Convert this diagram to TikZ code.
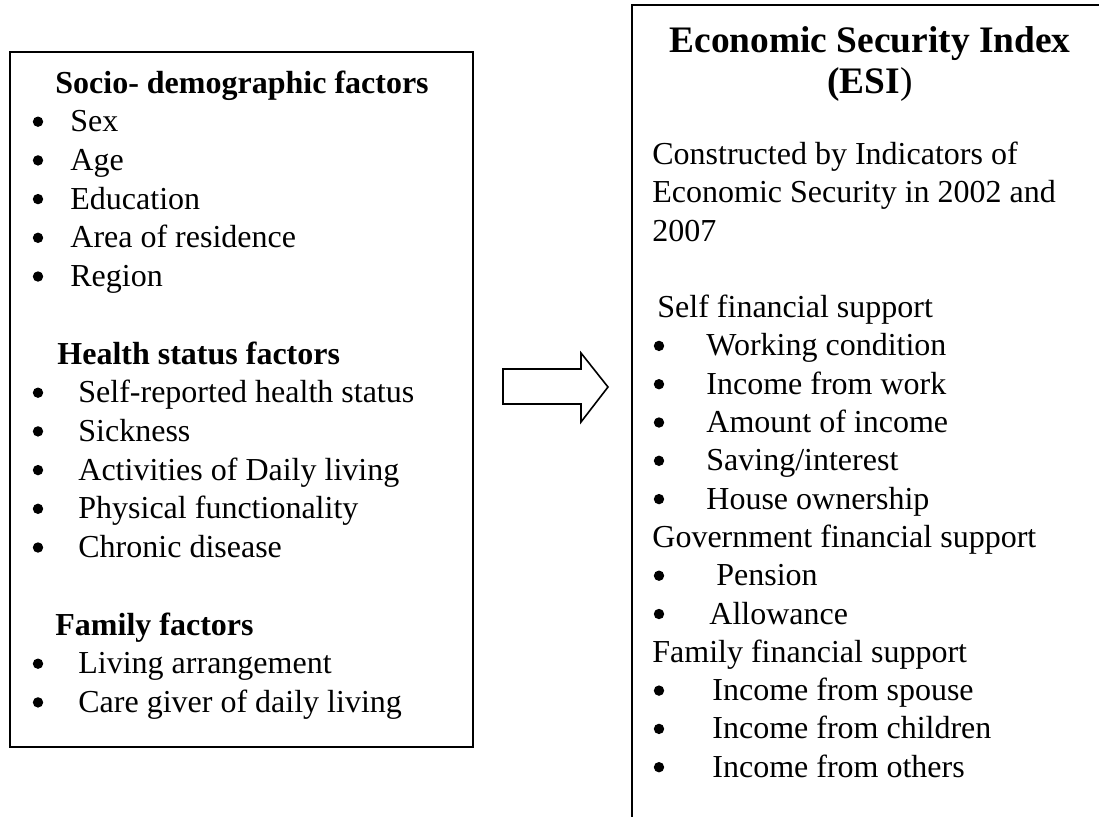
\documentclass[tikz,border=0pt]{standalone}
\usepackage{fontspec}
\setmainfont{Liberation Serif}
\tikzset{%
  box line/.style = {line width=1pt},
  item text/.style = {anchor=base west, inner sep=0pt,
    font=\fontsize{16}{19}\selectfont},
  head text/.style = {item text, font=\fontsize{16}{19}\selectfont\bfseries},
  title text/.style = {anchor=base, inner sep=0pt,
    font=\fontsize{18.7}{22}\selectfont\bfseries},
  dot/.style = {circle, fill=black, inner sep=0pt, minimum size=5.2pt},
}

\begin{document}
\begin{tikzpicture}[x=0.5pt, y=-0.5pt]
\useasboundingbox (0,0) rectangle (1099,816);
% left box: the factors
\draw[box line] (10,52) rectangle (473,747);
\node[head text] (socio) at (55,93) {Socio- demographic factors};
\foreach \t [count=\i] in {Sex, Age, Education, Area of residence, Region}{
  \node[dot] (sb\i) at (38,{93+\i*38.7-10}) {};
  \node[item text] (s\i) at (70,{93+\i*38.7}) {\t};
}
\node[head text] (health) at (57,364) {Health status factors};
\foreach \t [count=\i] in {Self-reported health status, Sickness,
  Activities of Daily living, Physical functionality, Chronic disease}{
  \node[dot] (hb\i) at (38,{364+\i*38.7-10}) {};
  \node[item text] (h\i) at (78,{364+\i*38.7}) {\t};
}
\node[head text] (family) at (55,635) {Family factors};
\foreach \t [count=\i] in {Living arrangement, Care giver of daily living}{
  \node[dot] (fb\i) at (38,{635+\i*38.7-10}) {};
  \node[item text] (f\i) at (78,{635+\i*38.7}) {\t};
}
% block arrow
\draw[line width=0.8pt] (503,369) -- (581,369) -- (581,353) -- (608,387)
  -- (581,422) -- (581,404) -- (503,404) -- cycle;
% right box: the index, running off the page
\draw[box line] (1110,5) -- (632,5) -- (632,830);
\node[title text] (esi) at (870,52) {Economic Security Index};
\node[title text] (esishort) at (870,93) {(ESI{\mdseries)}};
\node[item text] (c1) at (652,164.4) {Constructed by Indicators of};
\node[item text] (c2) at (652,202.7) {Economic Security in 2002 and};
\node[item text] (c3) at (652,241) {2007};
\node[item text] (self) at (657,317.6) {Self financial support};
\foreach \t [count=\i] in {Working condition, Income from work,
  Amount of income, Saving/interest, House ownership}{
  \node[dot] (wb\i) at (659,{317.6+\i*38.3-10}) {};
  \node[item text] (w\i) at (706,{317.6+\i*38.3}) {\t};
}
\node[item text] (gov) at (652,547.4) {Government financial support};
\node[dot] (gb1) at (659,{585.7-10}) {};
\node[item text] (g1) at (716,585.7) {Pension};
\node[dot] (gb2) at (659,{624-10}) {};
\node[item text] (g2) at (709,624) {Allowance};
\node[item text] (fam) at (652,662.3) {Family financial support};
\foreach \t [count=\i] in {Income from spouse, Income from children,
  Income from others}{
  \node[dot] (ib\i) at (659,{662.3+\i*38.3-10}) {};
  \node[item text] (i\i) at (712,{662.3+\i*38.3}) {\t};
}
\end{tikzpicture}
\end{document}
